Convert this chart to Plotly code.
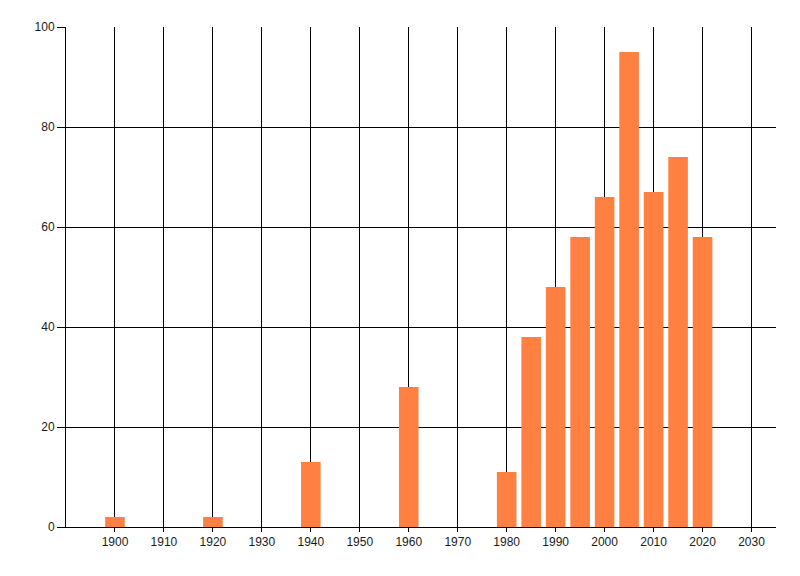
import plotly.graph_objects as go

years = [1900, 1920, 1940, 1960, 1980, 1985, 1990, 1995, 2000, 2005, 2010, 2015, 2020]
counts = [2, 2, 13, 28, 11, 38, 48, 58, 66, 95, 67, 74, 58]

x_ticks = [1900, 1910, 1920, 1930, 1940, 1950, 1960, 1970, 1980, 1990, 2000, 2010, 2020, 2030]
y_ticks = [0, 20, 40, 60, 80, 100]

fig = go.Figure()
fig.add_trace(go.Bar(x=years, y=counts, width=4,
                     marker=dict(color='#ff8040', line=dict(width=0))))

axis_font = dict(family='Liberation Sans, Arial, sans-serif', size=12, color='#1a1a1a')

# page body adds 8px offset, so margins are shifted to compensate
fig.update_layout(
    width=800, height=576,
    margin=dict(l=58, r=32, t=19, b=57),
    paper_bgcolor='white', plot_bgcolor='white',
    showlegend=False,
    xaxis=dict(range=[1890, 2035], tickvals=x_ticks, ticktext=[str(v) for v in x_ticks],
               showgrid=True, gridcolor='black', gridwidth=1,
               showline=True, linecolor='black', linewidth=1,
               ticks='outside', ticklen=4, tickcolor='black',
               tickfont=axis_font, zeroline=False),
    yaxis=dict(range=[0, 100], tickvals=y_ticks,
               showgrid=True, gridcolor='black', gridwidth=1,
               showline=True, linecolor='black', linewidth=1,
               ticks='outside', ticklen=8, tickcolor='black',
               tickfont=axis_font, zeroline=False),
)

fig.write_html("out.html")
